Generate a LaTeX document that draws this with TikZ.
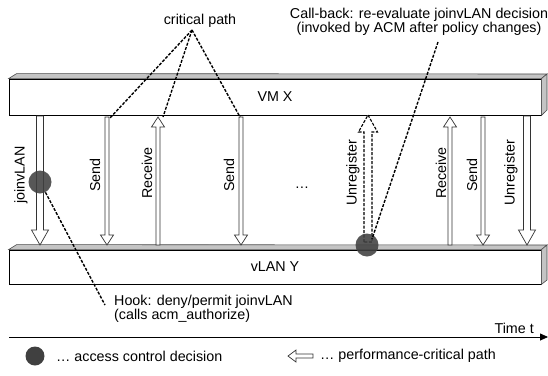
\documentclass[tikz,border=0pt]{standalone}
\usepackage{fontspec}
\setmainfont{Liberation Sans}
\usetikzlibrary{arrows.meta}
\definecolor{facegray}{HTML}{C4C4C4}
\definecolor{dotgray}{HTML}{404040}
\tikzset{
 lbl/.style={font=\fontsize{14.3}{13.5}\selectfont, inner sep=0pt},
 vlbl/.style={lbl, rotate=90},
 barfront/.style={draw=black, line width=0.8pt, fill=white, minimum width=532pt, inner sep=0pt, lbl},
 barface/.style={draw=black!70, line width=0.6pt, fill=facegray},
 harr/.style={draw=black!80, line width=0.7pt, fill=white},
 dharr/.style={harr, draw=black, dash pattern=on 3pt off 1.5pt, line width=1.1pt},
 acdot/.style={circle, fill=dotgray, fill opacity=0.88, inner sep=0pt, minimum size=23pt},
 conn/.style={dash pattern=on 3pt off 1.5pt, line width=1.4pt},
}
\newcommand{\hollowarr}[7]{%
 \draw[#7] ({#1-#4},#2) -- ({#1-#4},{#3-(#6)}) -- ({#1-#5},{#3-(#6)}) -- (#1,#3) -- ({#1+#5},{#3-(#6)}) -- ({#1+#4},{#3-(#6)}) -- ({#1+#4},#2) -- cycle;}
\begin{document}
\begin{tikzpicture}[x=1pt,y=-1pt]
\useasboundingbox (0,0) rectangle (548,375);
% bars
\node[barfront, minimum height=36pt] (vmx) at (275,97) {VM X};
\draw[barface] (vmx.north west) -- ++(8,-5) -- (547,74) -- (vmx.north east) -- cycle;
\draw[barface] (vmx.north east) -- (547,74) -- (547,110) -- (vmx.south east) -- cycle;
\node[barfront, minimum height=34pt] (vlan) at (275,267) {vLAN Y};
\draw[barface] (vlan.north west) -- ++(8,-5) -- (547,245) -- (vlan.north east) -- cycle;
\draw[barface] (vlan.north east) -- (547,245) -- (547,280) -- (vlan.south east) -- cycle;
% arrows
\hollowarr{40}{116}{245}{3.5}{8.5}{15}{harr}
\hollowarr{107}{117}{245}{2}{6.5}{10}{harr}
\hollowarr{158}{245}{117}{2}{6.5}{-10}{harr}
\hollowarr{241}{117}{245}{2}{6.5}{10}{harr}
\hollowarr{368}{242}{115}{4}{9.5}{-17}{dharr}
\hollowarr{450}{245}{117}{2}{6.5}{-10}{harr}
\hollowarr{483}{117}{245}{2}{6.5}{10}{harr}
\hollowarr{527}{116}{245}{3.5}{8.5}{15}{harr}
% arrow labels
\node[vlbl] (l1) at (21,175) {joinvLAN};
\node[vlbl] (l2) at (95,175) {Send};
\node[vlbl] (l3) at (147,173) {Receive};
\node[vlbl] (l4) at (229,175) {Send};
\node[lbl] (dots) at (302,188) {…};
\node[vlbl] (l5) at (353,173) {Unregister};
\node[vlbl] (l6) at (441,173) {Receive};
\node[vlbl] (l7) at (472,175) {Send};
\node[vlbl] (l8) at (511,173) {Unregister};
% decision dots
\node[acdot] (dot1) at (40,182) {};
\node[acdot] (dot2) at (367,245) {};
% critical path
\node[lbl] (cp) at (200,21) {critical path};
\coordinate (cpt) at (192,30);
\coordinate (s1top) at (110,118);
\coordinate (r1top) at (163,117);
\coordinate (s2top) at (240,117);
\draw[conn] (cpt) -- (s1top);
\draw[conn] (cpt) -- (r1top);
\draw[conn] (cpt) -- (s2top);
% call-back
\node[lbl, align=center] (cb) at (419,22) {Call-back: re-evaluate joinvLAN decision\\(invoked by ACM after policy changes)};
\coordinate (cbpt) at (438,42);
\coordinate (cbend) at (372,239);
\draw[conn] (cbpt) -- (cbend);
% hook
\node[lbl, align=left, anchor=west] (hook) at (114,309) {Hook: deny/permit joinvLAN\\(calls acm\_authorize)};
\coordinate (hookpt) at (105,305);
\draw[conn] (dot1) -- (hookpt);
% time axis
\coordinate (t0) at (9,337);
\coordinate (t1) at (548,337);
\draw[line width=0.8pt, -{Triangle[length=8pt,width=7pt]}] (t0) -- (t1);
\node[lbl, anchor=base east] (time) at (534,333) {Time t};
% legend
\node[acdot, minimum size=19pt, fill opacity=1] (ldot) at (35,356) {};
\node[lbl, anchor=west] (ltext1) at (56,356) {… access control decision};
\draw[harr] (313,354) -- (296,354) -- (296,350) -- (288,356) -- (296,362) -- (296,358) -- (313,358) -- cycle;
\node[lbl, anchor=west] (ltext2) at (320,356) {… performance-critical path};
\end{tikzpicture}
\end{document}
